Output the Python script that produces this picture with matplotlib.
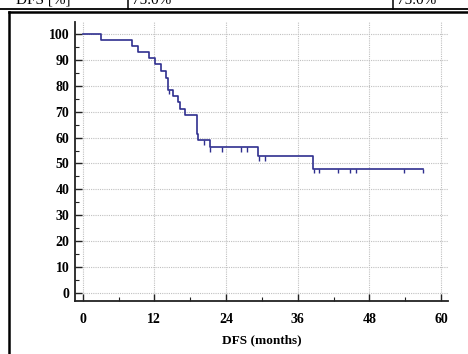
import matplotlib
matplotlib.use("Agg")
import matplotlib.pyplot as plt
import numpy as np
from matplotlib.lines import Line2D
from matplotlib.ticker import MultipleLocator

# Kaplan-Meier data (months, % disease-free)
event_times = [0, 3.0, 8.2, 9.2, 11.1, 12.1, 13.1, 14.0, 14.3, 15.2, 16.0, 16.3,
               17.2, 19.1, 19.3, 21.3, 29.4, 38.6]
survival = [100, 97.5, 95.4, 92.8, 90.5, 88.2, 85.5, 83.0, 78.5, 76.0, 73.5, 71.0,
            68.6, 61.4, 58.9, 56.3, 52.8, 47.9]
end_time = 56.9
censor_times = [14.4, 20.3, 21.3, 23.4, 26.5, 27.5, 29.5, 30.5, 38.7, 39.6,
                42.7, 44.7, 45.8, 53.8, 56.9]
x_ticks = [0, 12, 24, 36, 48, 60]
y_ticks = list(range(0, 101, 10))
table_texts = ["DFS [%]", "75.0%", "75.0%"]

W, H = 468, 354
fig = plt.figure(figsize=(W / 100, H / 100), dpi=100)
fig.patch.set_facecolor("white")

serif = ["Liberation Serif", "DejaVu Serif"]
color = "#2f2f8f"

ax = fig.add_axes([75 / W, 1 - 300.7 / H, (448 - 75) / W, (300.7 - 22) / H])
ax.set_xlim(-1.29, 61.17)
ax.set_ylim(-2.85, 104.5)

t = event_times + [end_time]
s = survival + [survival[-1]]
ax.step(t, s, where="post", color=color, lw=1.2, zorder=3)

idx = np.searchsorted(event_times, censor_times, side="right") - 1
cens_vals = np.array(survival)[idx]
ax.vlines(censor_times, cens_vals - 1.7, cens_vals, color=color, lw=1.0, zorder=3)

for sp in ["top", "right"]:
    ax.spines[sp].set_visible(False)
for sp in ["left", "bottom"]:
    ax.spines[sp].set_linewidth(1.3)
    ax.spines[sp].set_color("#222222")

ax.set_xticks(x_ticks)
ax.set_yticks(y_ticks)
ax.xaxis.set_minor_locator(MultipleLocator(6))
ax.yaxis.set_minor_locator(MultipleLocator(5))
ax.tick_params(axis="both", which="major", direction="in", length=5, width=1.0, color="#222222")
ax.tick_params(axis="both", which="minor", direction="in", length=3, width=0.8, color="#222222")
ax.tick_params(axis="x", which="major", pad=9)
ax.tick_params(axis="y", which="major", pad=4)
for lab in ax.get_xticklabels() + ax.get_yticklabels():
    lab.set_fontfamily(serif)
    lab.set_fontweight("bold")
    lab.set_fontsize(10)

ax.grid(True, which="major", color="#c0c0c0", lw=0.8, linestyle=(0, (1, 1)))
ax.set_axisbelow(True)
ax.set_xlabel("DFS (months)", fontfamily=serif, fontweight="bold", fontsize=9.5, labelpad=6)

# Page frame and table remnants
def fx(px):
    return px / W

def fy(py):
    return 1 - py / H

fig.add_artist(Line2D([0, 1], [fy(9.3), fy(9.3)], color="black", lw=1.3))
fig.add_artist(Line2D([fx(9), 1], [fy(12), fy(12)], color="black", lw=1.8))
fig.add_artist(Line2D([fx(9), fx(9)], [fy(12), 0], color="black", lw=1.8))
fig.add_artist(Line2D([fx(128), fx(128)], [fy(9), 1], color="black", lw=1.1))
fig.add_artist(Line2D([fx(393), fx(393)], [fy(9), 1], color="black", lw=1.1))

fig.text(fx(71), fy(3.5), table_texts[0], ha="right", va="baseline",
         fontfamily=serif, fontsize=11)
fig.text(fx(132), fy(3.5), table_texts[1], ha="left", va="baseline",
         fontfamily=serif, fontsize=11)
fig.text(fx(397), fy(3.5), table_texts[2], ha="left", va="baseline",
         fontfamily=serif, fontsize=11)

fig.savefig("out.png", dpi=100)
